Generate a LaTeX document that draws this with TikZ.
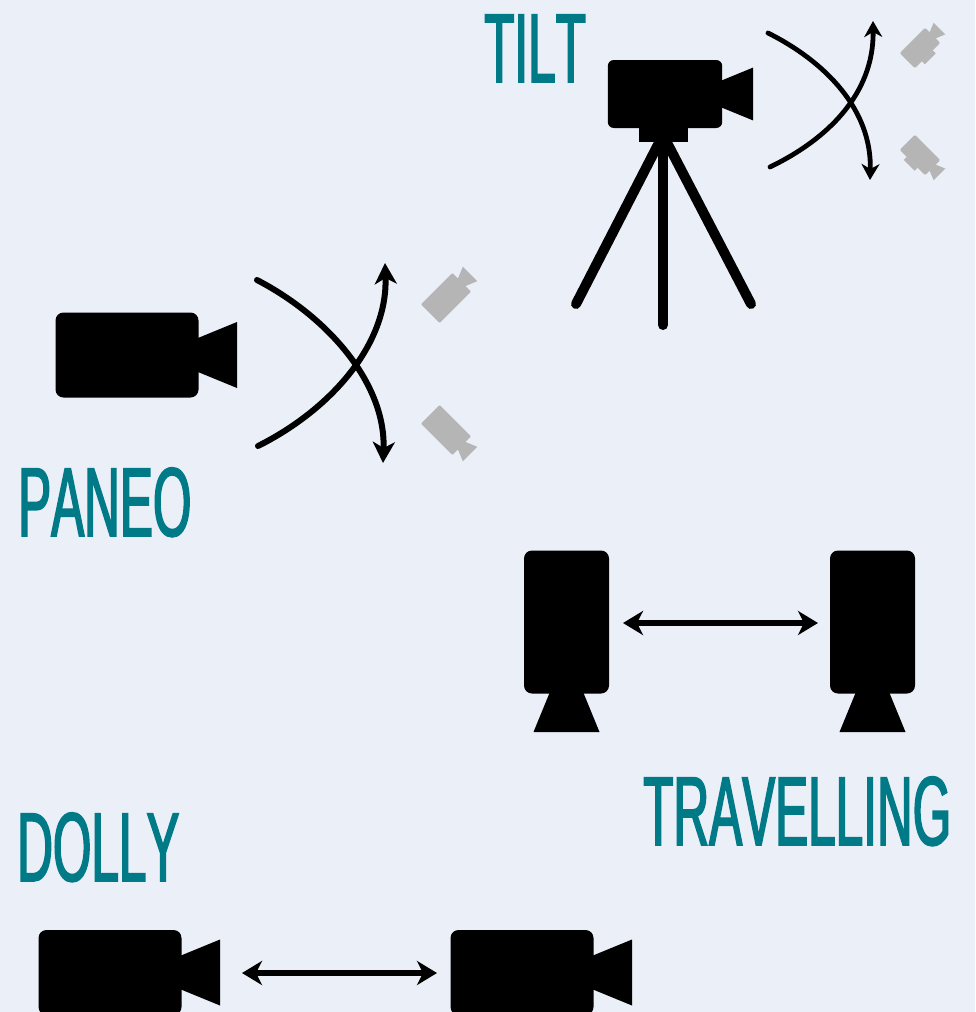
\documentclass[tikz,border=0pt]{standalone}
\usepackage{fontspec}
\usepackage{xcolor}
\usetikzlibrary{arrows.meta}
\newfontfamily\labelfont[FakeStretch=0.505,FakeBold=1.6,Kerning=Off]{Liberation Sans}
\definecolor{pagebg}{HTML}{EAEFF8}
\definecolor{labelteal}{HTML}{007A87}
\definecolor{camgrey}{HTML}{B5B5B5}
\tikzset{
  camera/.pic={
    \fill (-71.5,-42.5) rectangle (71.5,42.5);
    \fill[sharp corners] (71,-17) -- (110,-33) -- (110,33) -- (71,17) -- cycle;
  },
  cameramount/.pic={
    \fill[sharp corners] (-32,42) rectangle (29,60);
  },
  title/.style={inner sep=0pt, anchor=base west, text=labelteal, font=\labelfont\fontsize{98}{98}\selectfont},
  swing/.style={line width=#1, line cap=round},
  slide/.style={line width=6.5pt, {Stealth[length=20pt,width=24pt,inset=6pt]}-{Stealth[length=20pt,width=24pt,inset=6pt]}},
  leg/.style={line width=10pt, line cap=round}
}
\begin{document}
\begin{tikzpicture}[x=1pt,y=-1pt]
  \useasboundingbox[fill=pagebg] (0,0) rectangle (975,1012);

  \node[title] (tilt) at (484,82) {TILT};
  \node[title] (paneo) at (18,536) {PANEO};
  \node[title] (travelling) at (643,845) {TRAVELLING};
  \node[title] (dolly) at (17,881) {DOLLY};

  \path (665,94) pic[scale=.8, rounded corners=6pt] {camera};
  \path (665,94) pic[scale=.8] {cameramount};
  \coordinate (head) at (663,135);
  \coordinate (footl) at (576,304);
  \coordinate (footc) at (663,325);
  \coordinate (footr) at (751,304);
  \draw[leg] (head) -- (footl);
  \draw[leg] (head) -- (footc);
  \draw[leg] (head) -- (footr);

  \coordinate (tiltA) at (768,33);
  \coordinate (tiltB) at (870,180);
  \coordinate (tiltC) at (770,167);
  \coordinate (tiltD) at (873,21);
  \draw[swing=4.8pt, -{Stealth[length=16pt,width=18pt,inset=5pt]}] (tiltA) .. controls (826,62) and (872,110) .. (tiltB);
  \draw[swing=4.8pt, -{Stealth[length=16pt,width=18pt,inset=5pt]}] (tiltC) .. controls (826,140) and (874,95) .. (tiltD);
  \path (920,48) pic[scale=.25, rotate=45, color=camgrey, rounded corners=1pt] {camera};
  \path (920,48) pic[scale=.25, rotate=45, color=camgrey] {cameramount};
  \path (920,155) pic[scale=.25, rotate=-45, color=camgrey, rounded corners=1pt] {camera};
  \path (920,155) pic[scale=.25, rotate=-45, color=camgrey] {cameramount};

  \path (127,355) pic[rounded corners=8pt] {camera};
  \coordinate (panA) at (257,280);
  \coordinate (panB) at (383,463);
  \coordinate (panC) at (258,446);
  \coordinate (panD) at (385,263);
  \draw[swing=6pt, -{Stealth[length=21pt,width=22pt,inset=6pt]}] (panA) .. controls (330,318) and (386,385) .. (panB);
  \draw[swing=6pt, -{Stealth[length=21pt,width=22pt,inset=6pt]}] (panC) .. controls (330,410) and (388,345) .. (panD);
  \path (446,298) pic[scale=.31, rotate=45, color=camgrey, rounded corners=1pt] {camera};
  \path (446,430) pic[scale=.31, rotate=-45, color=camgrey, rounded corners=1pt] {camera};

  \path (566.5,622) pic[rotate=-90, rounded corners=8pt] {camera};
  \path (872.5,622) pic[rotate=-90, rounded corners=8pt] {camera};
  \coordinate (travelA) at (623,623);
  \coordinate (travelB) at (818,623);
  \draw[slide] (travelA) -- (travelB);

  \path (110,972.5) pic[rounded corners=8pt] {camera};
  \path (522,972.5) pic[rounded corners=8pt] {camera};
  \coordinate (dollyA) at (242,973);
  \coordinate (dollyB) at (437,973);
  \draw[slide] (dollyA) -- (dollyB);
\end{tikzpicture}
\end{document}
